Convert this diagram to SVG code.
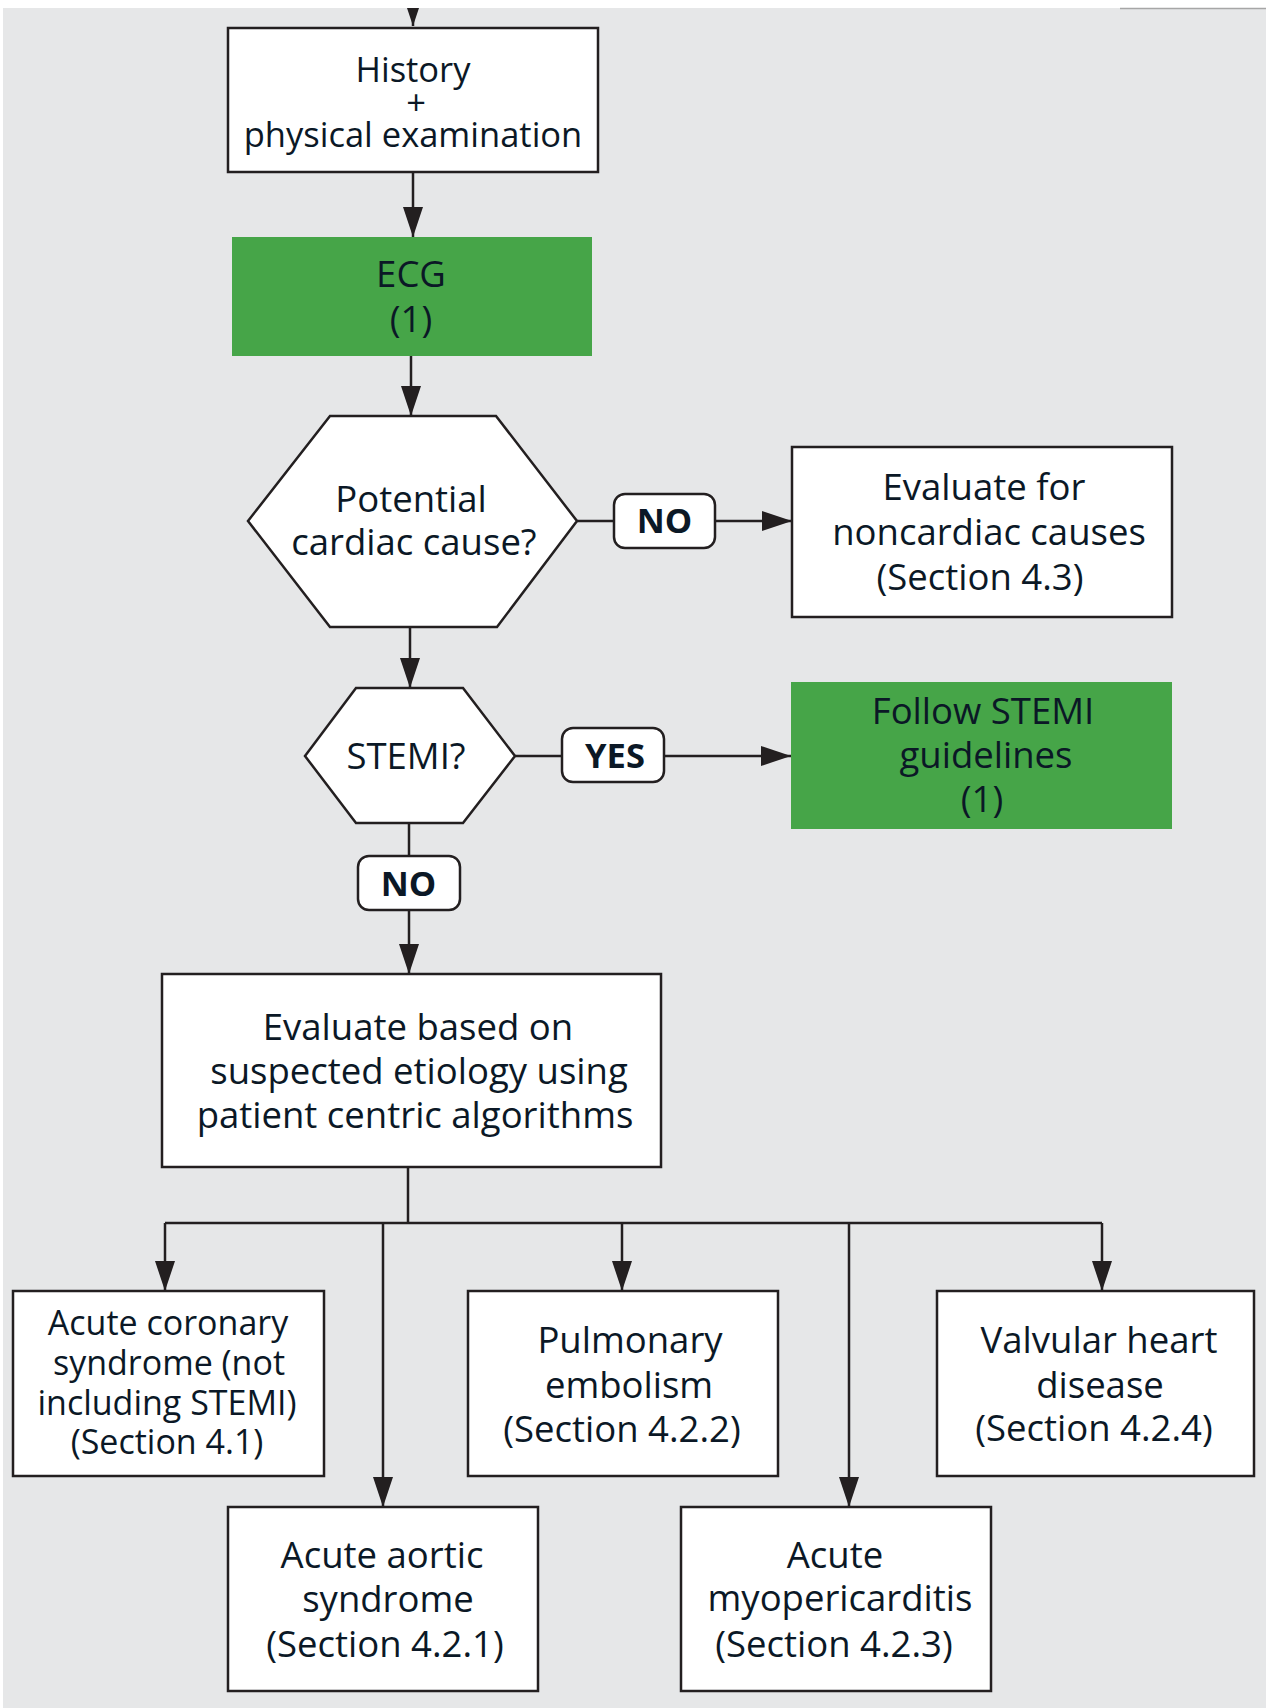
<svg xmlns="http://www.w3.org/2000/svg" width="1266" height="1708" viewBox="0 0 1266 1708">
<style>
.box{fill:#ffffff;stroke:#231f20;stroke-width:2.5}
.green{fill:#46a548;stroke:none}
.lbl{fill:#ffffff;stroke:#231f20;stroke-width:2.5}
.ln{fill:none;stroke:#231f20;stroke-width:2.5}
.t{font-family:"Open Sans","Noto Sans","Liberation Sans",sans-serif;font-size:36.5px;fill:#0b1826;text-anchor:middle}
.s{font-size:34.5px}
.a{font-size:34px}
.b{font-family:"Open Sans","Noto Sans","Liberation Sans",sans-serif;font-size:34.5px;font-weight:bold;fill:#0b1826;text-anchor:middle}
</style>
<defs>
<marker id="ah" markerUnits="userSpaceOnUse" markerWidth="30" markerHeight="20" refX="30" refY="10" orient="auto">
<path d="M0,0 L30,10 L0,20 z" fill="#231f20"/>
</marker>
<clipPath id="clipTop"><rect x="0" y="8" width="1266" height="1700"/></clipPath>
</defs>
<rect x="0" y="0" width="1266" height="1708" fill="#ffffff"/>
<rect x="3" y="8" width="1263" height="1700" fill="#e6e7e8"/>
<line x1="1120" y1="8.5" x2="1266" y2="8.5" stroke="#a6a6a6" stroke-width="1.5"/>

<g id="connectors">
<path class="ln" d="M413,-20 L413,26" marker-end="url(#ah)" clip-path="url(#clipTop)"/>
<path class="ln" d="M413,172 L413,237" marker-end="url(#ah)"/>
<path class="ln" d="M411,356 L411,416" marker-end="url(#ah)"/>
<path class="ln" d="M577,521 L614,521"/>
<path class="ln" d="M715,521 L792,521" marker-end="url(#ah)"/>
<path class="ln" d="M410,627 L410,688" marker-end="url(#ah)"/>
<path class="ln" d="M515,756 L562,756"/>
<path class="ln" d="M664,756 L791,756" marker-end="url(#ah)"/>
<path class="ln" d="M409,823 L409,856"/>
<path class="ln" d="M409,910 L409,974" marker-end="url(#ah)"/>
<path class="ln" d="M408,1167 L408,1223"/>
<path class="ln" d="M165,1223 L1102,1223"/>
<path class="ln" d="M165,1223 L165,1291" marker-end="url(#ah)"/>
<path class="ln" d="M383,1223 L383,1507" marker-end="url(#ah)"/>
<path class="ln" d="M622,1223 L622,1291" marker-end="url(#ah)"/>
<path class="ln" d="M849,1223 L849,1507" marker-end="url(#ah)"/>
<path class="ln" d="M1102,1223 L1102,1291" marker-end="url(#ah)"/>
</g>

<g id="lbl-no1">
<rect class="lbl" x="614" y="494" width="101" height="54" rx="11"/>
<text class="b" x="664.5" y="533">NO</text>
</g>
<g id="lbl-yes">
<rect class="lbl" x="562" y="728" width="102" height="54" rx="11"/>
<text class="b" x="615" y="768">YES</text>
</g>
<g id="lbl-no2">
<rect class="lbl" x="358" y="856" width="102" height="54" rx="11"/>
<text class="b" x="408.5" y="895.5">NO</text>
</g>

<g id="history">
<rect class="box" x="228" y="28" width="370" height="144"/>
<text class="t s" x="413" y="82">History</text>
<text class="t s" x="416" y="115">+</text>
<text class="t s" x="413" y="147">physical examination</text>
</g>

<g id="ecg">
<rect class="green" x="232" y="237" width="360" height="119"/>
<text class="t" x="411" y="287">ECG</text>
<text class="t" x="411" y="332">(1)</text>
</g>

<g id="cardiac">
<polygon class="box" points="248,521 330,416 496,416 577,521 497,627 330,627"/>
<text class="t" x="411" y="512">Potential</text>
<text class="t" x="414" y="555">cardiac cause?</text>
</g>

<g id="noncardiac">
<rect class="box" x="792" y="447" width="380" height="170"/>
<text class="t" x="984" y="500">Evaluate for</text>
<text class="t" x="989" y="545">noncardiac causes</text>
<text class="t" x="980" y="590">(Section 4.3)</text>
</g>

<g id="stemi">
<polygon class="box" points="305,756 356,688 463,688 515,756 463,823 356,823"/>
<text class="t" x="406" y="769">STEMI?</text>
</g>

<g id="follow-stemi">
<rect class="green" x="791" y="682" width="381" height="147"/>
<text class="t" x="983" y="724">Follow STEMI</text>
<text class="t" x="986" y="768">guidelines</text>
<text class="t" x="982" y="812">(1)</text>
</g>

<g id="evaluate">
<rect class="box" x="162" y="974" width="499" height="193"/>
<text class="t" x="418" y="1040">Evaluate based on</text>
<text class="t" x="419" y="1084">suspected etiology using</text>
<text class="t" x="415" y="1128">patient centric algorithms</text>
</g>

<g id="acs">
<rect class="box" x="13" y="1291" width="311" height="185"/>
<text class="t a" x="168" y="1335">Acute coronary</text>
<text class="t a" x="169" y="1375">syndrome (not</text>
<text class="t a" x="167" y="1415">including STEMI)</text>
<text class="t a" x="167" y="1454">(Section 4.1)</text>
</g>

<g id="aortic">
<rect class="box" x="228" y="1507" width="310" height="184"/>
<text class="t" x="382" y="1568">Acute aortic</text>
<text class="t" x="388" y="1612">syndrome</text>
<text class="t" x="385" y="1657">(Section 4.2.1)</text>
</g>

<g id="pe">
<rect class="box" x="468" y="1291" width="310" height="185"/>
<text class="t" x="630" y="1353">Pulmonary</text>
<text class="t" x="629" y="1398">embolism</text>
<text class="t" x="622" y="1442">(Section 4.2.2)</text>
</g>

<g id="myoperi">
<rect class="box" x="681" y="1507" width="310" height="184"/>
<text class="t" x="835" y="1568">Acute</text>
<text class="t" x="840" y="1611">myopericarditis</text>
<text class="t" x="834" y="1657">(Section 4.2.3)</text>
</g>

<g id="valvular">
<rect class="box" x="937" y="1291" width="317" height="185"/>
<text class="t" x="1099" y="1353">Valvular heart</text>
<text class="t" x="1100" y="1398">disease</text>
<text class="t" x="1094" y="1441">(Section 4.2.4)</text>
</g>
</svg>
